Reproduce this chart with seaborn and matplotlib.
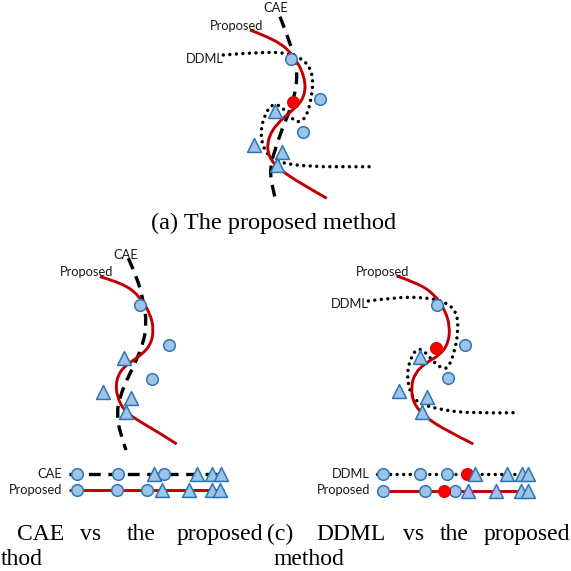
import matplotlib
matplotlib.use("Agg")
import matplotlib.pyplot as plt
import seaborn as sns
from matplotlib.path import Path
from matplotlib.patches import PathPatch

sns.set_theme(style="white")
plt.rcParams["lines.scale_dashes"] = False

# ---------------- canvas coordinates (pixels, y downward) ----------------
# Panel (a): all three embeddings overlaid
a_prop_x = [250, 276.7, 293.3, 305, 305, 293.3, 276.7, 267.3, 268.3, 280, 303.3, 326.7]
a_prop_y = [30, 40, 55, 76.7, 96.7, 110, 123.3, 140, 156.7, 170, 185, 198.3]
a_cae_x = [280, 291.7, 296.7, 296.7, 290, 281.7, 275, 270, 271.7, 276.7]
a_cae_y = [16.7, 46.7, 66.7, 86.7, 110, 130, 150, 166.7, 186.7, 203.3]
a_ddml_x = [223.3, 263, 290, 306.7, 313.3, 311.7, 306.7, 298.3, 290, 281.7, 273.3,
            265, 260, 265, 280, 313.3, 346.7, 370]
a_ddml_y = [55, 51.7, 53.3, 61.7, 76.7, 96.7, 116.7, 123.3, 116.7, 106.7, 103.3,
            113.3, 133.3, 153.3, 163.3, 166.7, 166.7, 166.7]
a_circ_x = [290.7, 320, 302.7]
a_circ_y = [59.3, 99, 132.3]
a_red_x = [293.3]
a_red_y = [101.7]
a_tri_x = [275, 254, 281.7, 276.7]
a_tri_y = [111, 145, 151.7, 165]

# Panel (b): CAE vs the proposed method
b_prop_x = [100, 123.3, 140, 150, 154, 150, 136.7, 123.3, 116, 116.7, 125, 140, 160, 176.7]
b_prop_y = [276.7, 283.3, 296.7, 313.3, 330, 346.7, 358.3, 366.7, 380, 396.7, 411.7,
            421.7, 433.3, 444]
b_cae_x = [128.3, 136.7, 143.3, 146.7, 143.3, 135, 126.7, 120, 116.7, 120, 126]
b_cae_y = [258.3, 276.7, 300, 323.3, 343.3, 363.3, 380, 396.7, 413.3, 433.3, 450]
b_circ_x = [140, 169.3, 152.3]
b_circ_y = [305, 345.3, 378.7]
b_tri_x = [124.3, 103.3, 130.7, 126]
b_tri_y = [357.7, 391.7, 398.3, 411.7]

# Panel (b) 1-D orderings
b_row_cae_y = 474.3
b_row_prop_y = 490
b_row_x0, b_row_x1 = 69, 224
b_cae_row_circ = [76.7, 118.3, 164.3]
b_cae_row_tri = [154, 196.7, 211.7, 220.7]
b_prop_row_circ = [76.7, 116.7, 146.7]
b_prop_row_tri = [161.7, 189, 212.3, 220]

# Panel (c): DDML vs the proposed method
c_prop_x = [396.7, 418.3, 435, 445, 450, 448.3, 440, 425, 415, 411, 413.3, 425, 445, 473.3]
c_prop_y = [276, 283.3, 295, 310, 326.7, 343.3, 355, 363.3, 373.3, 386.7, 403.3,
            416.7, 430, 444]
c_ddml_x = [368.3, 395, 425, 445, 456.7, 458.3, 455, 448.3, 441.7, 433.3, 425, 418.3,
            411.7, 406.7, 410, 418.3, 441.7, 471.7, 515]
c_ddml_y = [301, 297.3, 297.3, 301.7, 311.7, 330, 350, 368.3, 368.3, 361.7, 351.7,
            348.3, 355, 373.3, 393.3, 403.3, 410, 413.3, 412.7]
c_circ_x = [436.7, 465, 448.3]
c_circ_y = [305, 345, 378.3]
c_red_x = [436]
c_red_y = [348.3]
c_tri_x = [420, 399.3, 426.7, 421.7]
c_tri_y = [356.7, 390.7, 397.3, 411.7]

# Panel (c) 1-D orderings
c_row_ddml_y = 474.3
c_row_prop_y = 490.5
c_row_x0, c_row_x1 = 377, 527
c_ddml_row_circ = [383.3, 420, 446.7]
c_ddml_row_red = [466.7]
c_ddml_row_tri = [475, 506.7, 521.7, 528.3]
c_prop_row_circ = [383.3, 425, 455]
c_prop_row_red = [444.3]
c_prop_row_tri = [467.7, 495.7, 521, 528.3]

# ---------------- styles ----------------
RED_LINE = "#C00000"
FILL = "#9DC3E6"
EDGE = "#2E75B6"
RED_DOT = "#FF0000"
LABEL_FONT = "Lato"
LABEL_SIZE = 9.3
CAP_FONT = "Liberation Serif"
CAP_SIZE_A = 17.6
CAP_SIZE_BC = 17.0

PROP_STYLE = dict(color=RED_LINE, lw=2.1, linestyle="-")
CAE_STYLE = dict(color="black", lw=2.4, linestyle=(0, (8.5, 5.5)), capstyle="butt")
DDML_STYLE = dict(color="black", lw=2.5, linestyle=(0, (0.01, 4.7)), capstyle="round")

fig = plt.figure(figsize=(5.71, 5.71), dpi=100)
ax = fig.add_axes([0, 0, 1, 1])
ax.set_xlim(0, 571)
ax.set_ylim(571, 0)
ax.axis("off")


def smooth_curve(xs, ys, style):
    """Quadratic B-spline through the traced control points."""
    pts = list(zip(xs, ys))
    verts = [pts[0]]
    codes = [Path.MOVETO]
    n = len(pts)
    for i in range(1, n - 1):
        end = pts[-1] if i == n - 2 else ((pts[i][0] + pts[i + 1][0]) / 2,
                                          (pts[i][1] + pts[i + 1][1]) / 2)
        verts += [pts[i], end]
        codes += [Path.CURVE3, Path.CURVE3]
    patch = PathPatch(Path(verts, codes), fill=False, zorder=2,
                      joinstyle="round", **style)
    ax.add_patch(patch)


def markers(cx, cy, tx, ty, rx=None, ry=None):
    sns.scatterplot(x=cx, y=cy, marker="o", s=70, color=FILL, edgecolor=EDGE,
                    linewidth=1.1, ax=ax, zorder=5)
    if rx:
        sns.scatterplot(x=rx, y=ry, marker="o", s=70, color=RED_DOT, edgecolor="#E00000",
                        linewidth=1.0, ax=ax, zorder=6)
    sns.scatterplot(x=tx, y=ty, marker="^", s=100, color=FILL, edgecolor=EDGE,
                    linewidth=1.1, ax=ax, zorder=7)


def label(x, y, s, ha="center"):
    ax.text(x, y, s, ha=ha, va="center", fontsize=LABEL_SIZE, family=LABEL_FONT,
            color="#1a1a1a", zorder=8)


def row_line(x0, x1, y, style):
    sns.lineplot(x=[x0, x1], y=[y, y], ax=ax, zorder=3, **{k: v for k, v in style.items()
                                                          if k != "capstyle"},
                 solid_capstyle="butt", dash_capstyle=style.get("capstyle", "butt"))


# ----- panel (a) -----
smooth_curve(a_ddml_x, a_ddml_y, DDML_STYLE)
smooth_curve(a_cae_x, a_cae_y, CAE_STYLE)
smooth_curve(a_prop_x, a_prop_y, PROP_STYLE)
markers(a_circ_x, a_circ_y, a_tri_x, a_tri_y, a_red_x, a_red_y)
label(276, 7.5, "CAE")
label(236.5, 25.5, "Proposed")
label(204.5, 59, "DDML")
ax.text(274, 228.5, "(a) The proposed method", ha="center", va="baseline",
        fontsize=CAP_SIZE_A, family=CAP_FONT, color="black")

# ----- panel (b) -----
smooth_curve(b_cae_x, b_cae_y, CAE_STYLE)
smooth_curve(b_prop_x, b_prop_y, PROP_STYLE)
markers(b_circ_x, b_circ_y, b_tri_x, b_tri_y)
label(126, 255, "CAE")
label(86.7, 271.5, "Proposed")

row_line(b_row_x0, b_row_x1, b_row_cae_y, CAE_STYLE)
row_line(b_row_x0, b_row_x1, b_row_prop_y, PROP_STYLE)
markers(b_cae_row_circ, [b_row_cae_y] * 3, b_cae_row_tri, [b_row_cae_y] * 4)
markers(b_prop_row_circ, [b_row_prop_y] * 3, b_prop_row_tri, [b_row_prop_y] * 4)
label(62, b_row_cae_y, "CAE", ha="right")
label(62, b_row_prop_y, "Proposed", ha="right")

# ----- panel (c) -----
smooth_curve(c_ddml_x, c_ddml_y, DDML_STYLE)
smooth_curve(c_prop_x, c_prop_y, PROP_STYLE)
markers(c_circ_x, c_circ_y, c_tri_x, c_tri_y, c_red_x, c_red_y)
label(382.5, 271.5, "Proposed")
label(350, 304, "DDML")

row_line(c_row_x0, c_row_x1, c_row_ddml_y, DDML_STYLE)
row_line(c_row_x0, c_row_x1, c_row_prop_y, PROP_STYLE)
markers(c_ddml_row_circ, [c_row_ddml_y] * 3, c_ddml_row_tri, [c_row_ddml_y] * 4,
        c_ddml_row_red, [c_row_ddml_y])
markers(c_prop_row_circ, [c_row_prop_y] * 3, c_prop_row_tri, [c_row_prop_y] * 4,
        c_prop_row_red, [c_row_prop_y])
label(370, c_row_ddml_y, "DDML", ha="right")
label(370, c_row_prop_y, "Proposed", ha="right")

# ----- justified two-column captions -----
caption_words = [
    ("CAE", 16.7, 540), ("vs", 80, 540), ("the", 126.7, 540), ("proposed", 176.7, 540),
    ("(c)", 267, 540), ("DDML", 316.7, 540), ("vs", 403, 540), ("the", 440, 540),
    ("proposed", 483.3, 540), ("thod", 0.5, 565), ("method", 273, 565),
]
for word, x, y in caption_words:
    ax.text(x, y, word, ha="left", va="baseline", fontsize=CAP_SIZE_BC,
            family=CAP_FONT, color="black")

fig.savefig("out.png", dpi=100)
